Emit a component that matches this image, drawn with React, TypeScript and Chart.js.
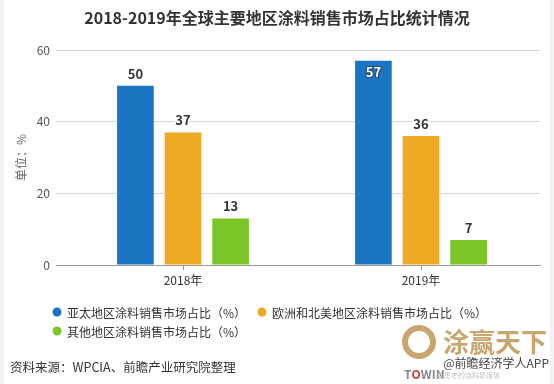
import React, { useEffect, useRef } from 'react';
import { Chart, registerables } from 'chart.js';

Chart.register(...registerables);

const FONT = '"Noto Sans CJK SC", "Microsoft YaHei", sans-serif';

const chartTitle = '2018-2019年全球主要地区涂料销售市场占比统计情况';
const categories = ['2018年', '2019年'];
const seriesNames = [
  '亚太地区涂料销售市场占比（%）',
  '欧洲和北美地区涂料销售市场占比（%）',
  '其他地区涂料销售市场占比（%）',
];
const asiaPacific = [50, 57];
const europeNorthAmerica = [37, 36];
const otherRegions = [13, 7];
const seriesColors = ['#1a75c2', '#eeaa24', '#7cc627'];
const yMin = 0;
const yMax = 60;
const yStep = 20;
const yAxisTitle = '单位：%';
const sourceText = '资料来源：WPCIA、前瞻产业研究院整理';
const creditText = '@前瞻经济学人APP';
const logoText = '涂赢天下';
const logoBrand = ['T', 'O', 'WIN'];
const logoSlogan = '会思考的涂料新媒体';

const decorPlugin = {
  id: 'decor',
  beforeDraw(chart: any) {
    const { ctx, width, height } = chart;
    ctx.save();
    ctx.fillStyle = '#f2f2f2';
    ctx.fillRect(0, 0, width, height);
    ctx.fillStyle = '#ffffff';
    ctx.fillRect(4, 0, width - 8, height);
    ctx.restore();
  },
  afterDatasetsDraw(chart: any) {
    const { ctx, chartArea } = chart;
    ctx.save();
    ctx.font = `bold 13px ${FONT}`;
    ctx.textAlign = 'center';
    ctx.textBaseline = 'middle';
    ctx.lineJoin = 'round';
    chart.data.datasets.forEach((ds: any, di: number) => {
      const meta = chart.getDatasetMeta(di);
      meta.data.forEach((bar: any, i: number) => {
        const txt = String(ds.data[i]);
        let y = bar.y - 12;
        let inside = false;
        if (y - 7 < chartArea.top) {
          y = bar.y + 11;
          inside = true;
        }
        if (inside) {
          ctx.lineWidth = 2;
          ctx.strokeStyle = '#24466a';
          ctx.strokeText(txt, bar.x, y);
          ctx.fillStyle = '#ffffff';
          ctx.fillText(txt, bar.x, y);
        } else {
          ctx.lineWidth = 3;
          ctx.strokeStyle = '#ffffff';
          ctx.strokeText(txt, bar.x, y);
          ctx.fillStyle = '#333333';
          ctx.fillText(txt, bar.x, y);
        }
      });
    });
    ctx.restore();
  },
  afterDraw(chart: any) {
    const { ctx, width } = chart;
    ctx.save();
    // title
    ctx.fillStyle = '#333333';
    ctx.font = `bold 16px ${FONT}`;
    ctx.textAlign = 'center';
    ctx.textBaseline = 'middle';
    ctx.fillText(chartTitle, width / 2, 18);

    // legend
    const cols = [57, 262];
    const rows = [312, 331];
    ctx.font = `12px ${FONT}`;
    ctx.textAlign = 'left';
    chart.data.datasets.forEach((ds: any, i: number) => {
      const row = i < 2 ? 0 : 1;
      const col = i < 2 ? i : 0;
      const cx = cols[col];
      const cy = rows[row];
      ctx.beginPath();
      ctx.arc(cx, cy, 4.5, 0, Math.PI * 2);
      ctx.fillStyle = ds.backgroundColor;
      ctx.fill();
      ctx.fillStyle = '#333333';
      ctx.fillText(ds.label, cx + 10, cy + 1);
    });

    // logo watermark
    ctx.strokeStyle = '#c9a66f';
    ctx.lineWidth = 6;
    ctx.beginPath();
    ctx.arc(419, 342, 14, 0, Math.PI * 2);
    ctx.stroke();
    ctx.fillStyle = '#c9a66f';
    ctx.font = `bold 26px ${FONT}`;
    ctx.textAlign = 'left';
    ctx.fillText(logoText, 443, 342);

    ctx.font = `bold 12px ${FONT}`;
    let bx = 404;
    const brandColors = ['#8a8a8a', '#d23a2a', '#8a8a8a'];
    logoBrand.forEach((part, i) => {
      ctx.fillStyle = brandColors[i];
      ctx.fillText(part, bx, 374);
      bx += ctx.measureText(part).width;
    });
    ctx.fillStyle = '#c4c4c4';
    ctx.font = `7px ${FONT}`;
    ctx.fillText(logoSlogan, 437, 375);

    // credit
    ctx.fillStyle = '#444444';
    ctx.font = `12px ${FONT}`;
    ctx.textAlign = 'right';
    ctx.fillText(creditText, 549, 363);

    // source
    ctx.fillStyle = '#333333';
    ctx.font = `12.5px ${FONT}`;
    ctx.textAlign = 'left';
    ctx.fillText(sourceText, 10, 367);
    ctx.restore();
  },
};

export default function App() {
  const canvasRef = useRef<HTMLCanvasElement | null>(null);

  useEffect(() => {
    if (!canvasRef.current) return;
    const chart = new Chart(canvasRef.current, {
      type: 'bar',
      data: {
        labels: categories,
        datasets: [
          { label: seriesNames[0], data: asiaPacific, backgroundColor: seriesColors[0] },
          { label: seriesNames[1], data: europeNorthAmerica, backgroundColor: seriesColors[1] },
          { label: seriesNames[2], data: otherRegions, backgroundColor: seriesColors[2] },
        ],
      },
      options: {
        responsive: false,
        animation: false,
        devicePixelRatio: 1,
        layout: { padding: { top: 50, right: 14, bottom: 89, left: 0 } },
        datasets: {
          bar: { barPercentage: 0.77, categoryPercentage: 0.6 },
        },
        plugins: {
          legend: { display: false },
          title: { display: false },
          tooltip: { enabled: false },
        },
        scales: {
          x: {
            grid: {
              display: true,
              drawOnChartArea: false,
              drawTicks: true,
              tickLength: 5,
              offset: false,
              color: '#999999',
            },
            border: { display: true, color: '#999999' },
            ticks: { color: '#333333', font: { family: FONT, size: 12 }, padding: 3 },
            afterFit: (s: any) => {
              s.height = 30;
            },
          },
          y: {
            min: yMin,
            max: yMax,
            ticks: { stepSize: yStep, padding: 6, color: '#555555', font: { family: FONT, size: 12 } },
            grid: {
              color: (c: any) => (c.tick && c.tick.value === 0 ? '#999999' : '#d6d6d6'),
              tickLength: 8,
            },
            border: { display: false },
            title: {
              display: true,
              text: yAxisTitle,
              color: '#666666',
              font: { family: FONT, size: 12 },
              padding: { top: 14, bottom: 0 },
            },
            afterFit: (s: any) => {
              s.width = 64;
            },
          },
        },
      },
      plugins: [decorPlugin],
    });
    return () => chart.destroy();
  }, []);

  return (
    <div style={{ position: 'fixed', left: 0, top: 0, width: 554, height: 384, background: '#fff' }}>
      <canvas ref={canvasRef} width={554} height={384} style={{ display: 'block', width: 554, height: 384 }} />
    </div>
  );
}
